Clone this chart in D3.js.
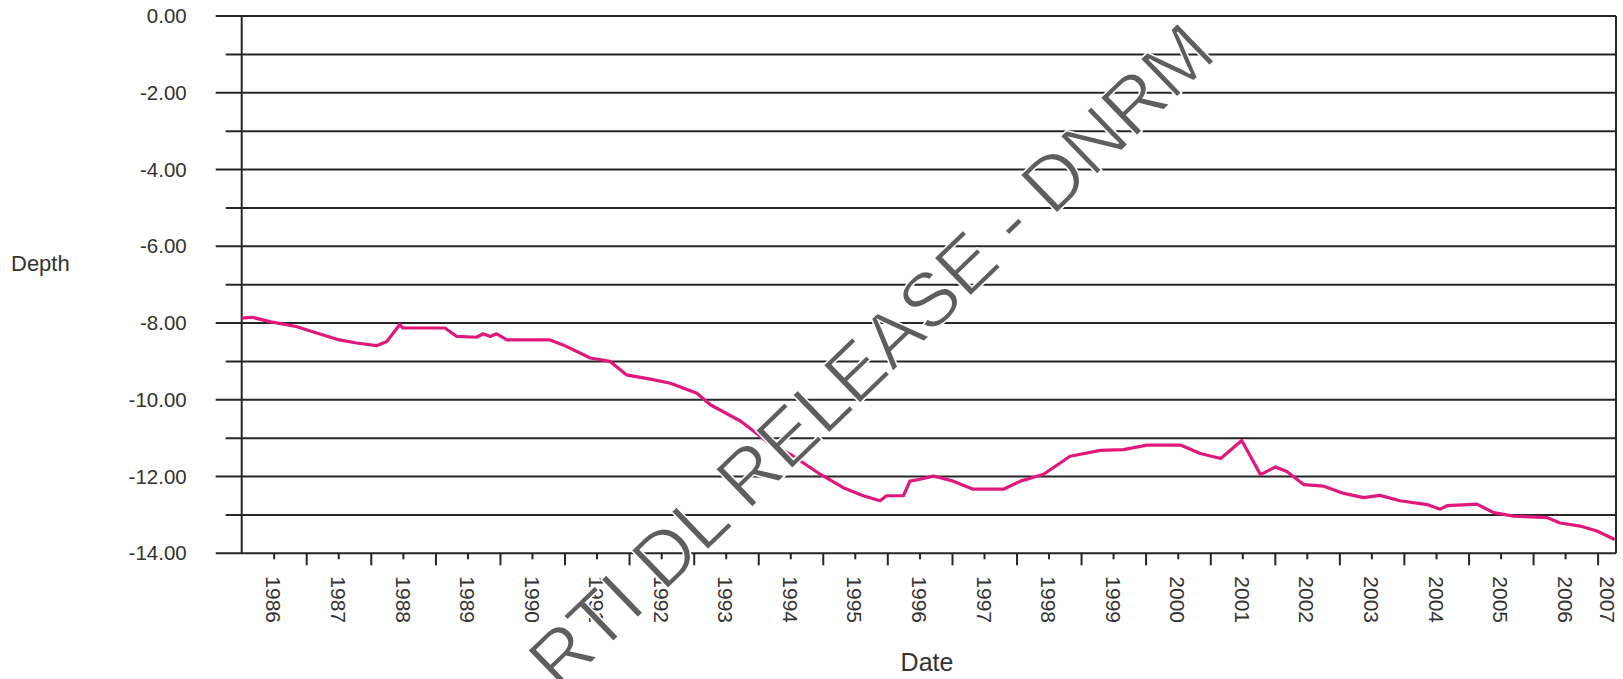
<!DOCTYPE html>
<html>
<head>
<meta charset="utf-8">
<script src="https://cdn.jsdelivr.net/npm/d3@7"></script>
<style>
  body { margin: 0; background: #fff; }
  svg { display: block; font-family: "Liberation Sans", Arial, sans-serif; }
</style>
</head>
<body>
<svg width="1623" height="679"></svg>
<script>
// water level readings (date, depth)
var dates = ["1986-01-01","1986-03-01","1986-06-15","1986-11-05","1987-03-01","1987-07-08","1987-10-12",
  "1988-02-03","1988-04-01","1988-06-13","1988-07-01","1989-02-24","1989-05-01","1989-08-22","1989-09-27",
  "1989-11-06","1989-12-13","1990-02-10","1990-10-12","1990-12-24","1991-05-27","1991-09-16","1991-12-17",
  "1992-05-01","1992-08-22","1993-01-19","1993-04-05","1993-09-24","1994-02-17","1994-07-19","1994-12-17",
  "1995-04-27","1995-08-18","1995-11-21","1995-12-28","1996-04-01","1996-05-08","1996-07-05","1996-09-16",
  "1996-10-27","1997-01-08","1997-05-01","1997-10-19","1998-01-23","1998-06-03","1998-10-31","1999-04-20",
  "1999-08-29","2000-01-08","2000-07-16","2000-11-06","2001-03-01","2001-06-28","2001-10-12","2002-01-05",
  "2002-03-10","2002-06-13","2002-10-05","2003-01-26","2003-05-19","2003-08-18","2003-12-10","2004-05-11",
  "2004-07-24","2004-09-02","2005-02-17","2005-05-23","2005-09-13","2006-03-22","2006-06-03","2006-09-24",
  "2006-12-28","2007-04-08"];
var depths = [-7.87,-7.85,-7.97,-8.09,-8.26,-8.44,-8.52,
  -8.59,-8.48,-8.04,-8.13,-8.13,-8.35,-8.37,-8.28,
  -8.35,-8.28,-8.44,-8.44,-8.57,-8.91,-9.00,-9.35,
  -9.46,-9.57,-9.83,-10.13,-10.56,-11.08,-11.47,-11.94,
  -12.29,-12.50,-12.63,-12.50,-12.50,-12.12,-12.07,-11.99,
  -12.03,-12.12,-12.33,-12.33,-12.12,-11.94,-11.47,-11.32,
  -11.30,-11.18,-11.18,-11.40,-11.53,-11.06,-11.95,-11.75,
  -11.87,-12.21,-12.25,-12.44,-12.55,-12.49,-12.63,-12.73,
  -12.85,-12.76,-12.72,-12.94,-13.03,-13.07,-13.21,-13.29,
  -13.42,-13.64];

var depthLabels = [0,-2,-4,-6,-8,-10,-12,-14];
var gridValues = d3.range(0,-15,-1);
var yearLabels = ["1986","1987","1988","1989","1990","1991","1992","1993","1994","1995","1996",
  "1997","1998","1999","2000","2001","2002","2003","2004","2005","2006","2007"];

var parse = d3.timeParse("%Y-%m-%d");
var data = dates.map(function(d,i){ return {date: parse(d), depth: depths[i]}; });

var svg = d3.select("svg");
var plotL = 241.7, plotR = 1616, plotT = 16, plotB = 553.3;

var x = d3.scaleTime()
  .domain([new Date(1986,0,1), new Date(2007,3,15)])
  .range([plotL, plotR]);
var y = d3.scaleLinear().domain([0,-14]).range([plotT, plotB]);

var ink = "#262626";

// grid lines (every metre), longer stub on labelled ones
svg.append("g").selectAll("line")
  .data(gridValues)
  .enter().append("line")
  .attr("x1", function(d){ return d % 2 === 0 ? plotL - 26 : plotL - 16; })
  .attr("x2", plotR)
  .attr("y1", function(d){ return y(d); })
  .attr("y2", function(d){ return y(d); })
  .attr("stroke", ink)
  .attr("stroke-width", 2);

// y axis labels (plain hyphen minus like the original)
var fmt = d3.format(".2f");
svg.append("g")
  .attr("transform", "translate(" + plotL + ",0)")
  .call(d3.axisLeft(y).tickValues(depthLabels)
    .tickFormat(function(d){ return fmt(d).replace("\u2212", "-"); })
    .tickSize(0).tickPadding(55))
  .call(function(g){ g.select(".domain").remove(); })
  .selectAll("text")
  .attr("font-size", 20.5)
  .attr("font-family", "Liberation Sans, Arial, sans-serif")
  .attr("fill", "#333");

// frame
svg.append("line").attr("x1", plotL).attr("x2", plotL).attr("y1", plotT).attr("y2", plotB)
  .attr("stroke", ink).attr("stroke-width", 2);
svg.append("line").attr("x1", plotR).attr("x2", plotR).attr("y1", plotT).attr("y2", plotB)
  .attr("stroke", ink).attr("stroke-width", 2);

// x ticks: long at year start, short at mid year
var yearStarts = d3.timeYear.range(new Date(1987,0,1), new Date(2007,1,1));
var midYears = yearLabels.map(function(s){ return new Date(+s, 6, 1); });

svg.append("g")
  .attr("transform", "translate(0," + plotB + ")")
  .call(d3.axisBottom(x).tickValues(yearStarts).tickSize(12).tickFormat(""))
  .call(function(g){ g.select(".domain").remove(); })
  .selectAll("line").attr("stroke", ink).attr("stroke-width", 2);

svg.append("g")
  .attr("transform", "translate(0," + plotB + ")")
  .call(d3.axisBottom(x).tickValues(midYears.filter(function(d){ return x(d) < plotR; })).tickSize(6).tickFormat(""))
  .call(function(g){ g.select(".domain").remove(); })
  .selectAll("line").attr("stroke", ink).attr("stroke-width", 2);

// rotated year labels
svg.append("g").selectAll("text")
  .data(yearLabels)
  .enter().append("text")
  .attr("transform", function(d,i){
    var px = Math.min(x(midYears[i]), plotR - 9);
    return "translate(" + px + "," + (plotB + 23) + ") rotate(90)";
  })
  .attr("dy", "0.35em")
  .attr("font-size", 21)
  .attr("fill", "#333")
  .text(function(d){ return d; });

// axis titles
svg.append("text").attr("x", 11).attr("y", 271).attr("font-size", 22).attr("fill", "#333").text("Depth");
svg.append("text").attr("x", 927).attr("y", 671).attr("text-anchor", "middle")
  .attr("font-size", 25).attr("fill", "#333").text("Date");

// series
var line = d3.line()
  .x(function(d){ return x(d.date); })
  .y(function(d){ return y(d.depth); });

svg.append("path")
  .datum(data)
  .attr("d", line)
  .attr("fill", "none")
  .attr("stroke", "#e0187c")
  .attr("stroke-width", 3.2)
  .attr("stroke-linejoin", "round");

// watermark
svg.append("text")
  .attr("transform", "translate(560,693) rotate(-44)")
  .attr("font-size", 77)
  .attr("fill", "#5e5e5e")
  .attr("stroke", "#fff")
  .attr("stroke-width", 1.5)
  .text("RTI DL RELEASE - DNRM");
</script>
</body>
</html>
